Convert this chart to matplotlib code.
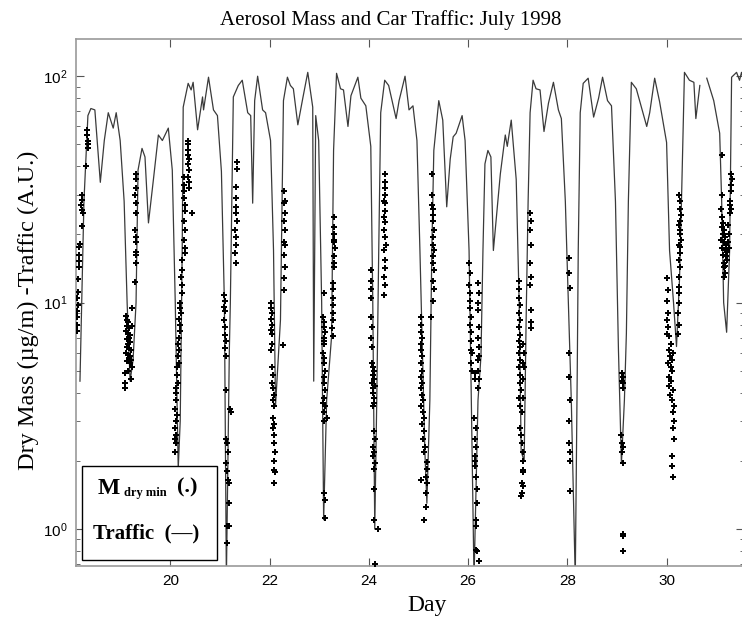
import numpy as np
import matplotlib.pyplot as plt
from matplotlib.ticker import LogLocator, NullFormatter, FixedLocator

# traffic (arbitrary units) vs day of July 1998
traffic_day = [18.18, 18.26, 18.34, 18.40, 18.48, 18.59, 18.67, 18.75, 18.85, 18.91, 18.99,
               19.07, 19.13, 19.19, 19.25, 19.31, 19.35, 19.43, 19.49, 19.56, 19.66, 19.76,
               19.84, 19.96, 20.04, 20.10, 20.16, 20.20, 20.24, 20.26, 20.36, 20.42, 20.46,
               20.55, 20.65, 20.67, 20.77, 20.87, 20.95, 21.03, 21.09, 21.13, 21.19, 21.21,
               21.27, 21.37, 21.45, 21.56, 21.62, 21.66, 21.70, 21.76, 21.86, 21.92, 22.02,
               22.08, 22.12, 22.22, 22.28, 22.36, 22.42, 22.48, 22.57, 22.67, 22.77, 22.87,
               22.89, 22.93, 22.99, 23.05, 23.09, 23.15, 23.25, 23.29, 23.35, 23.43, 23.49,
               23.58, 23.64, 23.78, 23.84, 23.94, 24.04, 24.08, 24.12, 24.16, 24.20, 24.24,
               24.32, 24.40, 24.55, 24.61, 24.73, 24.81, 24.89, 24.97, 25.03, 25.07, 25.13,
               25.17, 25.23, 25.27, 25.31, 25.41, 25.49, 25.57, 25.64, 25.70, 25.76, 25.88,
               25.94, 26.02, 26.08, 26.12, 26.20, 26.26, 26.30, 26.34, 26.40, 26.46, 26.51,
               26.65, 26.75, 26.79, 26.87, 26.97, 27.03, 27.07, 27.13, 27.17, 27.21, 27.25,
               27.31, 27.37, 27.45, 27.53, 27.62, 27.72, 27.82, 27.88, 27.96, 28.02, 28.08,
               28.16, 28.20, 28.22, 28.26, 28.32, 28.42, 28.53, 28.63, 28.71, 28.81, 28.89,
               28.97, 29.03, 29.09, 29.15, 29.19, 29.23, 29.29, 29.39, 29.60, 29.66, 29.76,
               29.86, 30.00, 30.06, 30.14, 30.20, 30.26, 30.30, 30.36, 30.46, 30.55, 30.59,
               30.67, 30.74, 30.81, 30.95, 31.07, 31.11, 31.15, 31.21, 31.27, 31.31, 31.41,
               31.47, 31.51, 31.55]
traffic_val = [4.5, 28, 67, 72, 71, 34, 52, 69, 59, 69, 52,
               28, 10, 4.5, 5.6, 10, 38.5, 48, 44, 22.5, 35, 55,
               52, 59, 38.5, 10, 1.85, 3.0, 17, 73, 93, 87, 94,
               58, 81, 71, 99, 71, 67, 38, 10, 0.6, 6.2, 10,
               81, 91, 96, 69, 67, 27.5, 78, 100, 71, 69, 52,
               17, 3.5, 8.4, 78, 99, 91, 88, 61, 80, 104, 73,
               4.5, 67, 52, 10, 1.1, 3.7, 7.1, 47, 103, 88, 87,
               60, 82, 99, 80, 74, 49, 10, 1.0, 3.7, 17, 69,
               96, 91, 65, 78, 100, 71, 74, 52, 17, 7.6, 2.2,
               1.3, 3.7, 17, 47, 78, 64, 26.5, 43, 54, 56, 67,
               52, 17, 2.2, 0.6, 3.7, 5.8, 17, 41, 47, 44, 17,
               37, 55, 49, 64, 35, 10, 2.2, 2.0, 8.4, 28, 69,
               96, 88, 87, 57, 76, 94, 71, 65, 28, 10, 3.7,
               0.6, 5.0, 17, 69, 93, 98, 66, 80, 99, 78, 74,
               28, 6.2, 1.95, 3.7, 7.3, 28, 94, 88, 60, 69, 98,
               77, 51, 17, 10, 6.4, 12.6, 28, 104, 96, 94, 65,
               91, np.nan, 98, 78, 56, 28, 10, 7.4, 17, 99, 104,
               96, 104, 96]

# dry aerosol mass, one list pair per night
m18_day = [18.12, 18.12, 18.13, 18.12, 18.14, 18.13, 18.15, 18.14, 18.16, 18.17, 18.16, 18.17,
           18.18, 18.23, 18.24, 18.23, 18.21, 18.23, 18.23, 18.31, 18.34, 18.35, 18.34, 18.33, 18.33]
m18_val = [7.5, 8.0, 8.6, 9.2, 9.8, 10.5, 11.2, 12.7, 14.4, 15.2, 16.3, 17.6,
           18.2, 21.8, 24.8, 25.6, 27, 28.3, 30, 40, 48, 50, 52, 55, 58]
m19_day = [19.30, 19.31, 19.30, 19.29, 19.30, 19.31, 19.29, 19.30, 19.31, 19.30, 19.31, 19.30, 19.29,
           19.10, 19.12, 19.15, 19.13, 19.17, 19.11, 19.14, 19.18, 19.16, 19.12, 19.19, 19.15, 19.13,
           19.17, 19.20, 19.11, 19.14, 19.18, 19.16, 19.21, 19.12, 19.19, 19.22, 19.15, 19.08, 19.09,
           19.08, 19.20, 19.22, 19.23]
m19_val = [37, 35, 32, 30, 27.5, 24.8, 21, 19.5, 18.5, 16.7, 16.2, 15, 12.3,
           8.7, 8.4, 8.2, 7.9, 7.7, 7.5, 7.3, 7.2, 7.0, 6.9, 6.7, 6.6, 6.4,
           6.3, 6.2, 6.0, 5.9, 5.8, 5.7, 5.6, 5.5, 5.4, 5.2, 5.0, 4.9, 4.4,
           4.2, 4.6, 7.9, 9.5]
m20_day = [20.35, 20.36, 20.35, 20.36, 20.37, 20.36, 20.37, 20.36, 20.37, 20.38, 20.27, 20.28,
           20.27, 20.28, 20.43, 20.30, 20.29, 20.28, 20.30, 20.28, 20.29, 20.30, 20.23, 20.24,
           20.22, 20.23, 20.24, 20.20, 20.19, 20.21, 20.18, 20.20, 20.19, 20.17, 20.16, 20.18,
           20.15, 20.17, 20.14, 20.13, 20.15, 20.12, 20.11, 20.12, 20.10, 20.13, 20.11, 20.09,
           20.11, 20.10, 20.12, 20.10]
m20_val = [52, 50, 47, 45, 43, 41, 38.5, 36, 34, 32, 36, 33,
           31, 29, 25, 27, 25.5, 23, 21, 19, 17.5, 16.5, 15.5, 14,
           13, 12, 11, 10, 9.5, 9, 8.5, 8, 7.5, 7.0, 6.6, 6.2,
           5.8, 5.4, 5.2, 4.8, 4.4, 4.2, 4.0, 3.7, 3.4, 3.2, 3.0, 2.8,
           2.6, 2.5, 2.4, 2.2]
m21_day = [21.34, 21.35, 21.33, 21.32, 21.33, 21.32, 21.34, 21.31, 21.32, 21.33, 21.31, 21.32,
           21.09, 21.10, 21.09, 21.10, 21.09, 21.11, 21.10, 21.12, 21.11, 21.13, 21.12, 21.21,
           21.22, 21.13, 21.14, 21.16, 21.13, 21.14, 21.16, 21.18, 21.19, 21.14, 21.18, 21.15]
m21_val = [42, 39, 32.5, 29, 26.5, 25, 23, 21, 19.5, 18, 16.5, 15,
           10.8, 10.2, 9.6, 9.2, 8.4, 7.8, 7.2, 6.8, 6.3, 5.8, 4.1, 3.4,
           3.3, 2.5, 2.4, 2.2, 1.95, 1.8, 1.65, 1.6, 1.3, 1.03, 1.03, 0.87]
m22_day = [22.30, 22.31, 22.30, 22.31, 22.30, 22.31, 22.30, 22.31, 22.30, 22.31, 22.30, 22.30,
           22.27, 22.02, 22.03, 22.04, 22.02, 22.04, 22.03, 22.05, 22.04, 22.03, 22.05, 22.06,
           22.04, 22.07, 22.08, 22.06, 22.09, 22.07, 22.08, 22.06, 22.09, 22.08, 22.10, 22.08,
           22.09, 22.10, 22.08]
m22_val = [31, 28, 27.5, 25, 23, 21, 18.5, 18, 16.2, 14.4, 12.8, 11.4,
           6.5, 10, 9.5, 9, 8.5, 8, 7.6, 7.3, 6.6, 6.2, 5.2, 4.8,
           4.4, 4.2, 3.9, 3.7, 3.5, 3.1, 2.9, 2.8, 2.6, 2.4, 2.2, 2.0,
           1.83, 1.78, 1.6]
m23_day = [23.29, 23.30, 23.30, 23.29, 23.30, 23.31, 23.30, 23.29, 23.30, 23.27, 23.28, 23.27,
           23.28, 23.27, 23.28, 23.26, 23.27, 23.10, 23.08, 23.10, 23.09, 23.11, 23.09, 23.10,
           23.09, 23.08, 23.10, 23.09, 23.11, 23.10, 23.09, 23.11, 23.10, 23.07, 23.12, 23.10,
           23.15, 23.09, 23.10, 23.11, 23.12]
m23_val = [24, 21.5, 20, 19, 18.5, 17.5, 16, 15, 14.3, 12.2, 11.5, 10.5,
           9.8, 9, 8.4, 7.7, 7.1, 11, 8.6, 8.2, 7.8, 7.4, 7.0, 6.8,
           6.6, 6.0, 5.7, 5.4, 5.0, 4.7, 4.4, 4.1, 3.8, 3.6, 3.5, 3.3,
           3.1, 3.0, 1.45, 1.35, 1.12]
m24_day = [24.32, 24.33, 24.32, 24.33, 24.31, 24.33, 24.32, 24.31, 24.33, 24.31, 24.32, 24.34,
           24.31, 24.33, 24.32, 24.31, 24.32, 24.30, 24.05, 24.04, 24.05, 24.04, 24.05, 24.06,
           24.05, 24.06, 24.07, 24.08, 24.10, 24.09, 24.11, 24.07, 24.12, 24.09, 24.08, 24.10,
           24.11, 24.09, 24.10, 24.12, 24.08, 24.11, 24.09, 24.12, 24.11, 24.10, 24.10, 24.18, 24.13]
m24_val = [37, 34, 32, 30, 28, 27.5, 25.5, 24, 22.6, 21, 19.5, 18,
           17, 15.5, 14.2, 13, 12, 10.8, 14, 12.5, 11.5, 10.5, 8.6, 7.8,
           7.0, 6.4, 5.4, 5.2, 5.0, 4.8, 4.6, 4.4, 4.3, 4.2, 4.0, 3.8,
           3.6, 3.5, 2.7, 2.5, 2.3, 2.2, 2.1, 1.95, 1.85, 1.5, 1.1, 1.0, 0.7]
m25_day = [25.28, 25.28, 25.27, 25.29, 25.30, 25.29, 25.31, 25.30, 25.29, 25.31, 25.30, 25.29,
           25.31, 25.30, 25.31, 25.30, 25.26, 25.05, 25.06, 25.05, 25.07, 25.06, 25.05, 25.07,
           25.06, 25.08, 25.05, 25.07, 25.06, 25.08, 25.10, 25.05, 25.09, 25.11, 25.07, 25.12,
           25.10, 25.13, 25.11, 25.17, 25.17, 25.16, 25.05, 25.17, 25.15, 25.16, 25.12]
m25_val = [37, 30, 27, 26, 24.5, 23, 21, 19.5, 18, 17, 16, 15,
           14, 12.5, 11.5, 10.2, 8.6, 8.6, 8.0, 7.4, 7.0, 6.6, 6.2, 5.8,
           5.4, 5.0, 4.7, 4.4, 4.2, 3.9, 3.7, 3.5, 3.3, 3.1, 2.9, 2.7,
           2.5, 2.3, 2.2, 1.97, 1.85, 1.7, 1.65, 1.6, 1.45, 1.25, 1.1]
m26_day = [26.02, 26.03, 26.02, 26.03, 26.04, 26.04, 26.05, 26.04, 26.05, 26.06, 26.05, 26.07,
           26.06, 26.07, 26.21, 26.22, 26.20, 26.21, 26.22, 26.21, 26.23, 26.22, 26.20, 26.21,
           26.22, 26.20, 26.14, 26.14, 26.12, 26.15, 26.13, 26.16, 26.13, 26.14, 26.13, 26.16,
           26.18, 26.18, 26.16, 26.16, 26.16, 26.17, 26.22]
m26_val = [15, 13.5, 12, 11, 10.2, 9.5, 8.6, 8, 7.4, 6.8, 6.2, 6.0,
           5.4, 5.0, 12.2, 11, 10, 9.3, 7.8, 7.0, 6.4, 5.8, 5.6, 5.0,
           4.6, 4.2, 4.9, 4.6, 3.1, 2.8, 2.5, 2.3, 2.1, 2.0, 1.9, 1.7,
           1.5, 1.3, 1.1, 1.03, 0.81, 0.8, 0.72]
m27_day = [27.25, 27.26, 27.25, 27.26, 27.25, 27.26, 27.25, 27.26, 27.27, 27.26, 27.02, 27.03,
           27.02, 27.04, 27.03, 27.04, 27.02, 27.04, 27.03, 27.05, 27.03, 27.04, 27.02, 27.05,
           27.04, 27.06, 27.03, 27.05, 27.08, 27.11, 27.12, 27.11, 27.12, 27.10, 27.11, 27.04,
           27.06, 27.08, 27.11, 27.10, 27.11, 27.10, 27.09, 27.10, 27.08, 27.07]
m27_val = [25, 23, 21, 18, 15, 13, 12, 9.3, 8.2, 7.7, 12.5, 11.5,
           10.5, 9.8, 9, 8.4, 7.8, 7.2, 6.8, 6.4, 6.0, 5.6, 5.2, 4.8,
           4.4, 4.1, 3.8, 3.5, 3.3, 6.6, 6.0, 5.4, 5.2, 4.6, 3.8, 2.8,
           2.6, 2.4, 2.2, 2.0, 1.83, 1.78, 1.6, 1.55, 1.45, 1.4]
m28_day = [28.03, 28.04, 28.05, 28.04, 28.03, 28.05, 28.04, 28.03, 28.05, 28.05, 28.05]
m28_val = [15.7, 13.5, 11.6, 6.0, 4.7, 3.7, 3.0, 2.4, 2.2, 2.0, 1.48]
m29_day = [29.10, 29.12, 29.11, 29.13, 29.12, 29.09, 29.11, 29.12, 29.11, 29.12, 29.12, 29.13, 29.12]
m29_val = [4.9, 4.7, 4.5, 4.4, 4.2, 2.6, 2.4, 2.3, 2.2, 1.95, 0.95, 0.93, 0.8]
m30_day = [30.26, 30.28, 30.27, 30.29, 30.28, 30.26, 30.28, 30.27, 30.29, 30.26, 30.27, 30.28,
           30.26, 30.27, 30.25, 30.26, 30.25, 30.26, 30.24, 30.25, 30.24, 30.01, 30.02, 30.01,
           30.02, 30.01, 30.02, 30.01, 30.05, 30.09, 30.04, 30.12, 30.06, 30.10, 30.03, 30.08,
           30.11, 30.05, 30.09, 30.04, 30.12, 30.07, 30.10, 30.14, 30.13, 30.14, 30.13, 30.14,
           30.10, 30.11, 30.12]
m30_val = [30, 28, 26, 24.5, 23, 22, 21, 20, 19, 18, 17.6, 16.5,
           15.5, 14.3, 13, 11.7, 11, 10, 9, 8, 7.3, 12.8, 11.4, 10.2,
           9, 8.4, 7.8, 7.3, 7.1, 6.6, 6.2, 6.0, 5.8, 5.6, 5.4, 5.2,
           5.0, 4.7, 4.5, 4.3, 4.1, 3.9, 3.7, 3.5, 3.3, 3.0, 2.8, 2.5,
           2.1, 1.9, 1.7]
m31_day = [31.11, 31.11, 31.30, 31.31, 31.30, 31.29, 31.28, 31.27, 31.29, 31.28, 31.10, 31.12,
           31.14, 31.11, 31.16, 31.13, 31.18, 31.10, 31.15, 31.20, 31.12, 31.17, 31.22, 31.14,
           31.19, 31.21, 31.15, 31.18, 31.16, 31.17, 31.16, 31.24, 31.26, 31.23, 31.25]
m31_val = [45, 30, 37, 35, 33, 31, 28, 27, 26, 25, 26, 24,
           22.5, 21.5, 21, 20, 19.5, 19, 18.5, 18, 17.5, 17, 16.8, 16.3,
           16, 15.5, 15, 14.5, 14.3, 13.5, 13, 22, 20, 18.5, 17.5]

mass_day = (m18_day + m19_day + m20_day + m21_day + m22_day + m23_day + m24_day
            + m25_day + m26_day + m27_day + m28_day + m29_day + m30_day + m31_day)
mass_val = (m18_val + m19_val + m20_val + m21_val + m22_val + m23_val + m24_val
            + m25_val + m26_val + m27_val + m28_val + m29_val + m30_val + m31_val)

W, H = 742, 621
fig = plt.figure(figsize=(W / 100, H / 100), dpi=100)
ax = fig.add_axes([76 / W, 1 - 566 / H, 668 / W, 527 / H])

ax.plot(traffic_day, traffic_val, color="#3a3a3a", lw=0.9, zorder=2)
ax.plot(mass_day, mass_val, ls="none", marker="P", ms=3.9, color="black",
        markeredgewidth=0, zorder=3)

ax.set_yscale("log")
ax.set_xlim(18.1, 31.56)
ax.set_ylim(0.687, 146)
ax.xaxis.set_major_locator(FixedLocator([20, 22, 24, 26, 28, 30]))
ax.yaxis.set_major_locator(LogLocator(base=10))
ax.yaxis.set_minor_locator(LogLocator(base=10, subs=np.arange(2, 10)))
ax.yaxis.set_minor_formatter(NullFormatter())

for sp in ax.spines.values():
    sp.set_color("#9a9a9a")
    sp.set_linewidth(1.2)
ax.tick_params(which="both", direction="in", top=True, right=True, color="#555555")
ax.tick_params(which="major", length=6, width=0.8, pad=6)
ax.tick_params(which="minor", length=3, width=0.6)
for lab in ax.get_xticklabels() + ax.get_yticklabels():
    lab.set_family("Liberation Sans")
    lab.set_fontsize(11)

serif = "Liberation Serif"
fig.text(391 / W, 1 - 20 / H, "Aerosol Mass and Car Traffic: July 1998",
         ha="center", va="center", fontsize=15, family=serif)
fig.text(427 / W, 1 - 605 / H, "Day", ha="center", va="center", fontsize=17, family=serif)
fig.text(28 / W, 1 - 310 / H, "Dry Mass (\u00b5g/m) -Traffic (A.U.)", ha="center",
         va="center", rotation=90, fontsize=17.5, family=serif)

# legend box
box = plt.Rectangle((82 / W, 1 - 560 / H), 135 / W, 94 / H, transform=fig.transFigure,
                    facecolor="white", edgecolor="black", lw=1.0, zorder=5)
fig.patches.append(box)
fig.text(98 / W, 1 - 488 / H, "M", fontsize=17, fontweight="bold", family=serif,
         ha="left", va="center", zorder=6)
fig.text(124 / W, 1 - 493 / H, "dry min", fontsize=9, fontweight="bold", family=serif,
         ha="left", va="center", zorder=6)
fig.text(177 / W, 1 - 487 / H, "(.)", fontsize=16, fontweight="bold", family=serif,
         ha="left", va="center", zorder=6)
fig.text(93 / W, 1 - 533 / H, "Traffic  (\u2014)", fontsize=15, fontweight="bold",
         family=serif, ha="left", va="center", zorder=6)

plt.savefig("out.png", dpi=100)
